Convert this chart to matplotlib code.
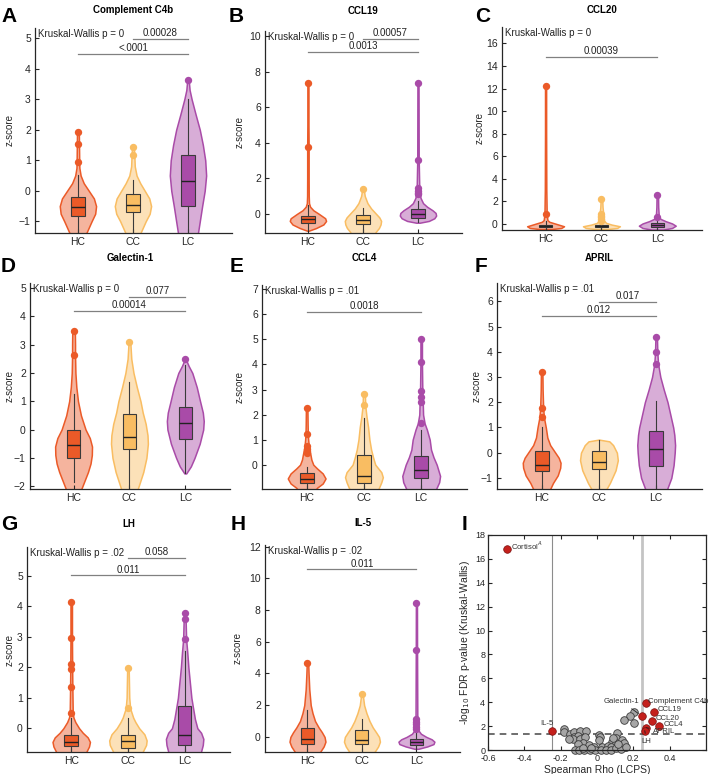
import numpy as np
import matplotlib.pyplot as plt

plt.rcParams['font.family'] = ['Liberation Sans', 'DejaVu Sans']

W, H = 709, 774

groups = ['HC', 'CC', 'LC']
group_colors = ['#EB5A28', '#F9BD62', '#A94BA8']

# ---------------- A: Complement C4b ----------------
c4b_vy = [[-1.7, -1.4, -1.0, -0.75, -0.5, -0.25, 0.0, 0.25, 0.5, 0.75, 1.0, 1.5, 1.93],
          [-1.7, -1.4, -1.0, -0.75, -0.5, -0.25, 0.0, 0.25, 0.5, 0.8, 1.1, 1.42],
          [-1.7, -1.38, -1.0, -0.5, 0.0, 0.5, 1.0, 1.5, 2.0, 2.5, 3.0, 3.3, 3.63]]
c4b_vw = [[0.3, 0.45, 0.75, 0.95, 1.0, 0.88, 0.6, 0.32, 0.15, 0.08, 0.07, 0.06, 0.05],
          [0.25, 0.4, 0.7, 0.92, 1.0, 0.9, 0.65, 0.4, 0.2, 0.1, 0.08, 0.05],
          [0.48, 0.55, 0.65, 0.78, 0.92, 1.0, 0.95, 0.82, 0.65, 0.42, 0.2, 0.09, 0.04]]
c4b_box = [[-0.81, -0.52, -0.19], [-0.68, -0.45, -0.1], [-0.5, 0.32, 1.16]]
c4b_whisk = [[-1.7, 0.52], [-1.7, 0.34], [-1.7, 3.0]]
c4b_out = [[1.93, 1.52, 0.95], [1.42, 1.18], [3.63]]
c4b_sig = [['0.00028', 2, 3, 4.98], ['<.0001', 1, 3, 4.49]]

# ---------------- B: CCL19 ----------------
ccl19_vy = [[-0.95, -0.8, -0.6, -0.4, -0.25, 0.0, 0.2, 0.4, 0.6, 1.0, 2.0, 3.7, 5.0, 7.35],
            [-1.2, -1.0, -0.8, -0.6, -0.4, -0.2, 0.0, 0.3, 0.6, 1.0, 1.4],
            [-0.5, -0.4, -0.25, -0.1, 0.05, 0.2, 0.4, 0.6, 0.9, 1.2, 1.5, 3.0, 5.0, 7.35]]
ccl19_vw = [[0.05, 0.45, 0.85, 1.0, 0.95, 0.6, 0.3, 0.12, 0.06, 0.045, 0.04, 0.04, 0.03, 0.03],
            [0.6, 0.72, 0.88, 0.97, 1.0, 0.9, 0.72, 0.45, 0.25, 0.1, 0.04],
            [0.1, 0.6, 0.9, 1.0, 0.97, 0.8, 0.5, 0.28, 0.14, 0.1, 0.07, 0.04, 0.035, 0.03]]
ccl19_box = [[-0.5, -0.3, -0.1], [-0.57, -0.36, -0.04], [-0.23, -0.03, 0.25]]
ccl19_whisk = [[-0.9, 0.5], [-1.1, 0.34], [-0.45, 0.7]]
ccl19_out = [[7.35, 3.75], [1.38], [7.35, 3.05, 1.48, 1.3, 1.2, 1.1]]
ccl19_sig = [['0.00057', 2, 3, 9.87], ['0.0013', 1, 3, 9.11]]

# ---------------- C: CCL20 ----------------
ccl20_vy = [[-0.45, -0.35, -0.2, 0.0, 0.2, 0.35, 0.9, 3.0, 8.0, 12.25],
            [-0.45, -0.35, -0.2, -0.05, 0.1, 0.3, 0.9, 1.5, 2.25],
            [-0.5, -0.35, -0.15, 0.05, 0.25, 0.45, 0.65, 1.5, 2.55]]
ccl20_vw = [[0.3, 0.85, 1.0, 0.6, 0.2, 0.1, 0.06, 0.04, 0.03, 0.03],
            [0.3, 0.85, 1.0, 0.55, 0.25, 0.14, 0.1, 0.06, 0.04],
            [0.3, 0.8, 1.0, 0.8, 0.45, 0.18, 0.08, 0.05, 0.04]]
ccl20_box = [[-0.3, -0.2, -0.05], [-0.27, -0.2, -0.12], [-0.3, -0.1, 0.12]]
ccl20_whisk = [[-0.45, 0.3], [-0.4, 0.1], [-0.5, 0.45]]
ccl20_out = [[12.25, 0.85], [2.25, 0.9, 0.75, 0.6, 0.45, 0.3], [2.55, 0.65]]
ccl20_sig = [['0.00039', 1, 3, 14.8]]

# ---------------- D: Galectin-1 ----------------
gal_vy = [[-2.4, -2.1, -1.8, -1.5, -1.2, -0.9, -0.6, -0.3, 0.0, 0.5, 1.0, 1.5, 2.0, 2.62, 3.0, 3.45],
          [-2.4, -2.1, -1.8, -1.5, -1.0, -0.5, -0.2, 0.2, 0.6, 1.0, 1.5, 2.0, 2.5, 3.05],
          [-1.55, -1.3, -1.0, -0.5, 0.0, 0.3, 0.6, 1.0, 1.5, 2.0, 2.25, 2.45]]
gal_vw = [[0.3, 0.42, 0.6, 0.78, 0.92, 0.99, 1.0, 0.88, 0.65, 0.4, 0.24, 0.15, 0.1, 0.08, 0.08, 0.07],
          [0.35, 0.45, 0.6, 0.75, 0.92, 1.0, 0.98, 0.88, 0.72, 0.6, 0.4, 0.22, 0.1, 0.05],
          [0.05, 0.3, 0.5, 0.78, 0.97, 1.0, 0.95, 0.8, 0.62, 0.38, 0.18, 0.05]]
gal_box = [[-1.02, -0.55, -0.02], [-0.7, -0.27, 0.54], [-0.32, 0.25, 0.8]]
gal_whisk = [[-1.87, 1.26], [-2.4, 1.69], [-1.55, 2.28]]
gal_out = [[3.47, 2.64], [3.08], [2.49]]
gal_sig = [['0.077', 2, 3, 4.7], ['0.00014', 1, 3, 4.2]]

# ---------------- E: CCL4 ----------------
ccl4_vy = [[-1.2, -0.92, -0.75, -0.55, -0.35, -0.15, 0.0, 0.2, 0.4, 0.7, 1.0, 1.25, 1.6, 2.25],
           [-1.2, -0.95, -0.7, -0.5, -0.3, 0.0, 0.3, 0.6, 1.0, 1.5, 1.9, 2.35, 2.82],
           [-1.2, -0.95, -0.7, -0.45, -0.2, 0.0, 0.3, 0.6, 1.0, 1.4, 1.65, 2.0, 2.55, 2.95, 4.05, 5.0]]
ccl4_vw = [[0.3, 0.55, 0.85, 1.0, 0.85, 0.55, 0.35, 0.25, 0.2, 0.12, 0.08, 0.06, 0.05, 0.04],
           [0.72, 0.78, 0.92, 1.0, 0.92, 0.6, 0.48, 0.38, 0.29, 0.22, 0.14, 0.07, 0.05],
           [0.73, 0.8, 0.95, 1.0, 0.9, 0.82, 0.65, 0.52, 0.45, 0.3, 0.18, 0.1, 0.08, 0.06, 0.04, 0.04]]
ccl4_box = [[-0.73, -0.57, -0.33], [-0.73, -0.44, 0.38], [-0.54, -0.2, 0.33]]
ccl4_whisk = [[-0.95, -0.1], [-1.2, 1.86], [-1.2, 1.4]]
ccl4_out = [[2.26, 1.24, 0.73, 0.63, 0.55, 0.46], [2.83, 2.38], [5.0, 4.08, 2.95, 2.7, 2.52, 1.66]]
ccl4_sig = [['0.0018', 1, 3, 6.1]]

# ---------------- F: APRIL ----------------
april_vy = [[-1.7, -1.44, -1.2, -0.9, -0.6, -0.4, -0.2, 0.0, 0.3, 0.6, 1.0, 1.4, 1.75, 2.5, 3.18],
            [-1.7, -1.44, -1.2, -1.0, -0.7, -0.3, 0.0, 0.3, 0.45, 0.52],
            [-1.7, -1.44, -1.0, -0.5, 0.0, 0.3, 0.7, 1.0, 1.5, 2.0, 2.5, 3.0, 3.52, 3.98, 4.6]]
april_vw = [[0.35, 0.45, 0.6, 0.85, 0.98, 1.0, 0.9, 0.72, 0.45, 0.3, 0.22, 0.12, 0.08, 0.05, 0.04],
            [0.3, 0.4, 0.58, 0.7, 0.88, 1.0, 0.95, 0.75, 0.55, 0.0],
            [0.5, 0.58, 0.8, 0.92, 0.98, 1.0, 0.96, 0.9, 0.75, 0.6, 0.4, 0.22, 0.1, 0.06, 0.04]]
april_box = [[-0.74, -0.47, 0.06], [-0.64, -0.35, 0.05], [-0.51, 0.15, 0.85]]
april_whisk = [[-1.7, 1.02], [-1.7, 0.52], [-1.7, 2.04]]
april_out = [[3.19, 1.77, 1.4], [], [4.59, 3.98, 3.53]]
april_sig = [['0.017', 2, 3, 5.97], ['0.012', 1, 3, 5.43]]

# ---------------- G: LH ----------------
lh_vy = [[-1.0, -0.76, -0.6, -0.45, -0.3, -0.15, 0.0, 0.2, 0.35, 0.5, 1.35, 2.0, 2.95, 4.13],
         [-1.0, -0.76, -0.55, -0.4, -0.2, 0.0, 0.2, 0.35, 0.65, 1.0, 1.97],
         [-1.0, -0.76, -0.55, -0.35, -0.15, 0.0, 0.3, 0.7, 1.0, 1.5, 2.0, 2.5, 2.92, 3.6, 3.78]]
lh_vw = [[0.7, 0.82, 0.95, 1.0, 0.88, 0.62, 0.42, 0.22, 0.12, 0.08, 0.06, 0.05, 0.04, 0.04],
         [0.7, 0.8, 0.97, 1.0, 0.88, 0.6, 0.4, 0.28, 0.12, 0.07, 0.04],
         [0.8, 0.88, 0.97, 1.0, 0.88, 0.68, 0.55, 0.44, 0.36, 0.28, 0.2, 0.14, 0.08, 0.05, 0.04]]
lh_box = [[-0.57, -0.46, -0.22], [-0.66, -0.41, -0.22], [-0.55, -0.22, 0.72]]
lh_whisk = [[-1.0, 0.33], [-1.0, 0.33], [-1.0, 2.54]]
lh_out = [[4.13, 2.95, 2.1, 1.94, 1.34, 0.49], [1.99, 0.66], [3.79, 3.6, 2.93]]
lh_sig = [['0.058', 2, 3, 5.59], ['0.011', 1, 3, 5.02]]

# ---------------- H: IL-5 ----------------
il5_vy = [[-1.2, -0.95, -0.6, -0.3, 0.0, 0.3, 0.6, 1.0, 1.5, 2.0, 3.0, 4.0, 4.65],
          [-1.2, -0.95, -0.6, -0.3, 0.0, 0.3, 0.6, 1.0, 1.5, 2.0, 2.7],
          [-0.75, -0.6, -0.45, -0.3, -0.15, 0.0, 0.2, 0.4, 0.6, 1.1, 5.45, 8.45]]
il5_vw = [[0.6, 0.7, 0.9, 1.0, 0.95, 0.8, 0.62, 0.42, 0.28, 0.18, 0.1, 0.06, 0.04],
          [0.6, 0.7, 0.9, 1.0, 0.95, 0.78, 0.6, 0.42, 0.25, 0.12, 0.04],
          [0.1, 0.6, 0.95, 1.0, 0.85, 0.55, 0.25, 0.12, 0.07, 0.05, 0.035, 0.03]]
il5_box = [[-0.45, -0.15, 0.58], [-0.45, -0.2, 0.42], [-0.5, -0.32, -0.12]]
il5_whisk = [[-1.2, 1.7], [-1.2, 1.15], [-0.75, 0.4]]
il5_out = [[4.65], [2.7], [8.45, 5.45, 1.1, 0.95, 0.8, 0.65, 0.5]]
il5_sig = [['0.011', 1, 3, 10.57]]

titles = ['Complement C4b', 'CCL19', 'CCL20', 'Galectin-1', 'CCL4', 'APRIL', 'LH', 'IL-5']
kw_texts = ['Kruskal-Wallis p = 0', 'Kruskal-Wallis p = 0', 'Kruskal-Wallis p = 0',
            'Kruskal-Wallis p = 0', 'Kruskal-Wallis p = .01', 'Kruskal-Wallis p = .01',
            'Kruskal-Wallis p = .02', 'Kruskal-Wallis p = .02']
ylims = [(-1.38, 5.33), (-1.08, 10.3), (-0.53, 17.45), (-2.1, 5.18),
         (-0.97, 7.17), (-1.44, 6.73), (-0.78, 5.95), (-0.95, 12.1)]
yticks = [np.arange(-1, 6), np.arange(0, 11, 2), np.arange(0, 17, 2), np.arange(-2, 6),
          np.arange(0, 8), np.arange(-1, 7), np.arange(0, 6), np.arange(0, 13, 2)]

panel_data = [
    (c4b_vy, c4b_vw, c4b_box, c4b_whisk, c4b_out, c4b_sig),
    (ccl19_vy, ccl19_vw, ccl19_box, ccl19_whisk, ccl19_out, ccl19_sig),
    (ccl20_vy, ccl20_vw, ccl20_box, ccl20_whisk, ccl20_out, ccl20_sig),
    (gal_vy, gal_vw, gal_box, gal_whisk, gal_out, gal_sig),
    (ccl4_vy, ccl4_vw, ccl4_box, ccl4_whisk, ccl4_out, ccl4_sig),
    (april_vy, april_vw, april_box, april_whisk, april_out, april_sig),
    (lh_vy, lh_vw, lh_box, lh_whisk, lh_out, lh_sig),
    (il5_vy, il5_vw, il5_box, il5_whisk, il5_out, il5_sig),
]

# ---------------- I: volcano ----------------
gray_rho = [0.205, 0.184, 0.149, 0.205, -0.18, -0.18, -0.149, -0.128, -0.093, -0.128,
            -0.105, -0.13, -0.096, -0.061, -0.065, 0.009, 0.017, 0.012, 0.11, 0.105,
            0.082, 0.105, 0.132, 0.153, -0.079, -0.105, -0.044, -0.018, 0.026, 0.058,
            0.079, -0.123, -0.1, -0.07, -0.04, -0.01, 0.023, 0.05, 0.079, 0.105,
            0.132, -0.079, -0.035, 0.14, 0.148, -0.155, 0.089, 0.116, 0.16]
gray_p = [3.21, 2.85, 2.51, 2.29, 1.73, 1.53, 1.34, 1.53, 1.62, 1.12,
          1.17, 0.89, 0.89, 1.62, 1.06, 1.26, 1.06, 0.84, 1.45, 0.98,
          0.7, 0.56, 0.5, 0.28, 0.56, 0.5, 0.42, 0.28, 0.28, 0.33,
          0.28, 0.0, 0.0, 0.0, 0.0, 0.0, 0.0, 0.0, 0.0, 0.14,
          0.05, 0.2, 0.14, 0.85, 0.6, 0.9, 0.98, 0.47, 0.28]
red_names = ['Cortisol$^{A}$', 'Complement C4b', 'CCL19', 'CCL20', 'CCL4',
             'Galectin-1', 'APRIL', 'LH', 'IL-5']
red_rho = [-0.495, 0.267, 0.316, 0.302, 0.342, 0.246, 0.272, 0.263, -0.245]
red_p = [16.85, 3.96, 3.18, 2.46, 2.04, 2.85, 1.87, 1.62, 1.62]

# layout (pixels: left, right, top, bottom)
rects_px = [(35, 232, 28, 233), (265, 462, 31, 233), (502, 702, 27, 230),
            (30, 230, 283, 489), (262, 467, 285, 489), (497, 702, 283, 489),
            (27, 230, 547, 752), (265, 460, 545, 752)]
ylabel_x_px = [10, 240, 480, 10, 240, 477, 10, 238]
title_y_px = [10, 11, 10, 258, 258, 258, 524, 523, 524]
letters = ['A', 'B', 'C', 'D', 'E', 'F', 'G', 'H', 'I']
letter_px = [(1, 16), (229, 16), (475, 17), (1, 267), (230, 267), (475, 267),
             (1, 525), (231, 525), (462, 525)]


def rect(l, r, t, b):
    return [l / W, 1 - b / H, (r - l) / W, (b - t) / H]


fig = plt.figure(figsize=(W / 100, H / 100), dpi=100)

for k, (vy, vw, box, whisk, outl, sig) in enumerate(panel_data):
    l, r, t, b = rects_px[k]
    ax = fig.add_axes(rect(l, r, t, b))
    for i in range(3):
        pos = i + 1
        col = group_colors[i]
        stats = [{'coords': np.array(vy[i]), 'vals': np.array(vw[i]),
                  'mean': box[i][1], 'median': box[i][1],
                  'min': vy[i][0], 'max': vy[i][-1]}]
        parts = ax.violin(stats, positions=[pos], widths=0.66, showextrema=False)
        for body in parts['bodies']:
            body.set_alpha(None)
            body.set_facecolor((*plt.matplotlib.colors.to_rgb(col), 0.45))
            body.set_edgecolor(col)
            body.set_linewidth(1.1)
            body.set_zorder(1)
        ax.bxp([{'med': box[i][1], 'q1': box[i][0], 'q3': box[i][2],
                 'whislo': whisk[i][0], 'whishi': whisk[i][1], 'fliers': []}],
               positions=[pos], widths=0.24, patch_artist=True, showcaps=False,
               showfliers=False, manage_ticks=False,
               boxprops=dict(facecolor=col, edgecolor='#3a3a3a', linewidth=0.8),
               medianprops=dict(color='#222222', linewidth=1.0),
               whiskerprops=dict(color='#3a3a3a', linewidth=0.8))
        if outl[i]:
            ax.plot([pos] * len(outl[i]), outl[i], 'o', color=col, markersize=5.3,
                    markeredgewidth=0, zorder=4, clip_on=False)

    for label, x0, x1, yv in sig:
        ax.plot([x0, x1], [yv, yv], color='#808080', lw=0.9)
        ax.annotate(label, ((x0 + x1) / 2, yv), xytext=(0, 0.5), textcoords='offset points',
                    ha='center', va='bottom', fontsize=7, color='#222222')

    ax.text(0.015, 0.995, kw_texts[k], transform=ax.transAxes, ha='left', va='top',
            fontsize=7, color='#222222')
    ax.set_xlim(0.22, 3.8)
    ax.set_ylim(*ylims[k])
    ax.set_yticks(yticks[k])
    ax.set_xticks([1, 2, 3])
    ax.set_xticklabels(groups)
    ax.spines['top'].set_visible(False)
    ax.spines['right'].set_visible(False)
    for s in ['left', 'bottom']:
        ax.spines[s].set_linewidth(0.9)
        ax.spines[s].set_color('#262626')
    ax.tick_params(direction='in', length=3, width=0.8, labelsize=7.5, colors='#262626', pad=3)
    ax.set_ylabel('z-score', fontsize=7, color='#262626', va='center')
    ax.yaxis.set_label_coords((ylabel_x_px[k] - l) / (r - l), 0.5)
    fig.text((l + r) / 2 / W, 1 - title_y_px[k] / H, titles[k], ha='center', va='center',
             fontsize=7, fontweight='bold')

# volcano panel
axi = fig.add_axes(rect(488, 706, 535, 750))
axi.axvline(-0.245, color='#8c8c8c', lw=0.8, zorder=1)
axi.axvline(0.245, color='#c4c4c4', lw=2.0, zorder=1)
axi.axhline(-np.log10(0.05), color='#555555', lw=1.2, ls=(0, (4, 3)), zorder=1)
axi.scatter(gray_rho, gray_p, s=30, c='#a6a6a6', edgecolors='#3a3a3a', linewidths=0.6,
            zorder=2, clip_on=False)
axi.scatter(red_rho, red_p, s=30, c='#C4201C', edgecolors='#7a1010', linewidths=0.5,
            zorder=3, clip_on=False)

label_xy = [(-0.475, 17.1), (0.28, 4.05), (0.335, 3.38), (0.322, 2.66), (0.365, 2.12),
            (0.235, 4.05), (0.31, 1.55), (0.272, 0.75), (-0.275, 2.25)]
label_ha = ['left', 'left', 'left', 'left', 'left', 'right', 'left', 'center', 'center']
leader = [False, False, False, False, False, True, True, True, False]
for name, xr, yr, (tx, ty), ha, ld in zip(red_names, red_rho, red_p, label_xy, label_ha, leader):
    if ld:
        axi.annotate(name, (xr, yr), xytext=(tx, ty), ha=ha, va='center', fontsize=5.6,
                     color='#333333',
                     arrowprops=dict(arrowstyle='-', lw=0.6, color='#222222', shrinkA=1, shrinkB=3))
    else:
        axi.text(tx, ty, name, ha=ha, va='center', fontsize=5.6, color='#333333')

axi.set_xlim(-0.6, 0.6)
axi.set_ylim(0, 18)
axi.set_xticks([-0.6, -0.4, -0.2, 0, 0.2, 0.4])
axi.set_xticklabels(['-0.6', '-0.4', '-0.2', '0', '0.2', '0.4'])
axi.set_yticks(np.arange(0, 19, 2))
axi.tick_params(direction='in', length=3, width=0.8, labelsize=6.5, colors='#262626', pad=2,
                top=True, right=True)
axi.tick_params(axis='x', pad=3)
for s in axi.spines.values():
    s.set_linewidth(0.9)
    s.set_color('#262626')
axi.set_xlabel('Spearman Rho (LCPS)', fontsize=7.5, color='#262626', labelpad=1)
axi.set_ylabel('-log$_{10}$ FDR p-value (Kruskal-Wallis)', fontsize=7.5, color='#262626',
               labelpad=2)

for letter, (lx, ly) in zip(letters, letter_px):
    fig.text(lx / W, 1 - ly / H, letter, ha='left', va='center', fontsize=15, fontweight='bold')

fig.savefig('out.png', dpi=100)
